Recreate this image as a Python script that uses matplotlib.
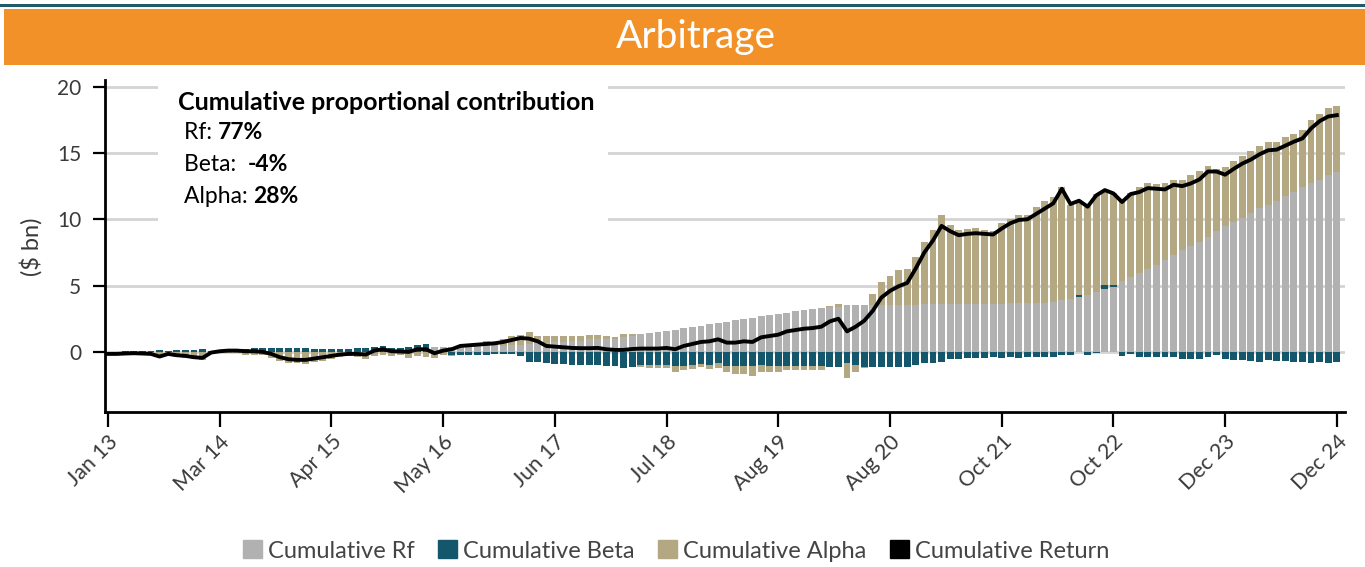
import numpy as np
import matplotlib
matplotlib.use("Agg")
import matplotlib.pyplot as plt
from matplotlib.patches import Patch, Rectangle

# ---------------- data ----------------
tick_labels = ["Jan 13", "Mar 14", "Apr 15", "May 16", "Jun 17", "Jul 18",
               "Aug 19", "Aug 20", "Oct 21", "Oct 22", "Dec 23", "Dec 24"]

cum_rf = [
    0.0, 0.0, 0.0, 0.0, 0.0, 0.0, 0.0, 0.0, 0.0, 0.0,
    0.0, 0.0, 0.0, 0.0, 0.0, 0.0, 0.0, 0.0, 0.0, 0.0,
    0.0, 0.0, 0.0, 0.0, 0.0, 0.0, 0.0, 0.0, 0.0, 0.0,
    0.0, 0.0, 0.0, 0.0, 0.0, 0.0, 0.0, 0.0, 0.35, 0.35,
    0.37, 0.38, 0.40, 0.42, 0.42, 0.42, 0.45, 0.50, 0.50, 0.60,
    0.70, 0.70, 0.72, 0.78, 0.85, 0.85, 0.95, 0.95, 1.00, 1.00,
    1.15, 1.23, 1.35, 1.43, 1.50, 1.60, 1.65, 1.80, 1.90, 1.95,
    2.10, 2.20, 2.25, 2.40, 2.50, 2.55, 2.70, 2.80, 2.87, 2.95,
    3.10, 3.17, 3.25, 3.32, 3.37, 3.42, 3.55, 3.55, 3.55, 3.55,
    3.55, 3.57, 3.57, 3.57, 3.57, 3.62, 3.62, 3.62, 3.63, 3.63,
    3.63, 3.63, 3.64, 3.64, 3.64, 3.67, 3.67, 3.67, 3.67, 3.70,
    3.75, 3.92, 4.00, 4.17, 4.30, 4.53, 4.75, 4.90, 5.36, 5.66,
    5.96, 6.26, 6.57, 6.94, 7.32, 7.65, 8.00, 8.30, 8.68, 9.08,
    9.46, 9.76, 10.11, 10.44, 10.82, 11.10, 11.40, 11.77, 12.08, 12.45,
    12.75, 12.98, 13.36, 13.60,
]

cum_beta = [
    0.00, 0.03, 0.08, 0.08, 0.08, 0.08, 0.15, 0.08, 0.15, 0.15,
    0.15, 0.20, 0.10, 0.15, 0.20, 0.20, 0.20, 0.28, 0.28, 0.28,
    0.28, 0.28, 0.28, 0.28, 0.20, 0.20, 0.20, 0.20, 0.20, 0.30,
    0.30, 0.40, 0.45, 0.30, 0.28, 0.40, 0.53, 0.60, 0.00, 0.00,
    -0.20, -0.20, -0.20, -0.20, -0.20, -0.15, -0.15, -0.15, -0.30, -0.75,
    -0.75, -0.80, -0.90, -0.88, -1.00, -1.00, -1.00, -1.00, -1.05, -1.05,
    -1.20, -1.13, -1.00, -1.00, -1.00, -1.00, -1.05, -1.05, -1.00, -0.90,
    -1.00, -0.83, -1.05, -1.05, -1.05, -1.05, -1.00, -1.05, -1.05, -1.05,
    -1.03, -1.03, -1.03, -1.03, -1.10, -1.10, -0.83, -0.95, -1.10, -1.10,
    -1.10, -1.10, -1.10, -1.10, -0.95, -0.83, -0.83, -0.73, -0.55, -0.50,
    -0.45, -0.45, -0.45, -0.35, -0.45, -0.35, -0.45, -0.40, -0.40, -0.35,
    -0.40, -0.23, -0.23, 0.12, -0.23, -0.10, 0.30, 0.15, -0.28, -0.15,
    -0.40, -0.35, -0.40, -0.40, -0.35, -0.50, -0.55, -0.50, -0.35, -0.20,
    -0.50, -0.60, -0.60, -0.68, -0.75, -0.60, -0.68, -0.68, -0.75, -0.75,
    -0.80, -0.75, -0.80, -0.75,
]

cum_alpha = [
    -0.20, -0.20, -0.20, -0.20, -0.20, -0.20, -0.35, -0.25, -0.40, -0.45,
    -0.55, -0.60, -0.10, -0.10, -0.10, -0.10, -0.20, -0.25, -0.25, -0.45,
    -0.65, -0.85, -0.85, -0.90, -0.75, -0.65, -0.55, -0.40, -0.30, -0.40,
    -0.50, -0.30, -0.25, -0.30, -0.25, -0.45, -0.30, -0.35, -0.45, -0.25,
    -0.10, 0.00, 0.00, 0.15, 0.40, 0.35, 0.50, 0.70, 0.78, 0.90,
    0.50, 0.50, 0.50, 0.42, 0.35, 0.35, 0.33, 0.33, 0.20, 0.15,
    0.20, 0.12, -0.13, -0.20, -0.25, -0.25, -0.45, -0.28, -0.28, -0.25,
    -0.28, -0.37, -0.50, -0.65, -0.65, -0.80, -0.55, -0.50, -0.50, -0.35,
    -0.37, -0.32, -0.32, -0.32, 0.10, 0.20, -1.17, -0.55, -0.15, 0.83,
    1.75, 2.17, 2.63, 2.69, 3.55, 4.68, 5.58, 6.72, 5.97, 5.57,
    5.62, 5.73, 5.56, 5.51, 6.06, 6.33, 6.67, 6.67, 7.23, 7.67,
    7.92, 8.51, 7.07, 6.91, 6.67, 7.37, 7.13, 6.95, 5.91, 6.34,
    6.47, 6.47, 6.11, 5.79, 5.66, 5.33, 5.36, 5.36, 5.31, 4.73,
    4.45, 4.60, 4.68, 4.68, 4.73, 4.70, 4.45, 4.41, 4.37, 4.30,
    4.75, 4.92, 5.04, 4.97,
]

cum_return = [
    -0.15, -0.15, -0.12, -0.10, -0.12, -0.15, -0.35, -0.15, -0.25, -0.30,
    -0.40, -0.45, -0.05, 0.05, 0.10, 0.10, 0.05, 0.05, 0.00, -0.15,
    -0.40, -0.55, -0.60, -0.60, -0.50, -0.40, -0.30, -0.20, -0.15, -0.15,
    -0.20, 0.10, 0.20, 0.05, 0.03, 0.00, 0.20, 0.20, -0.10, 0.10,
    0.20, 0.45, 0.50, 0.55, 0.60, 0.65, 0.75, 0.90, 1.05, 1.00,
    0.80, 0.45, 0.40, 0.35, 0.30, 0.28, 0.28, 0.30, 0.20, 0.15,
    0.15, 0.22, 0.25, 0.25, 0.25, 0.30, 0.20, 0.45, 0.60, 0.75,
    0.80, 0.95, 0.70, 0.70, 0.80, 0.75, 1.10, 1.20, 1.30, 1.55,
    1.65, 1.75, 1.80, 1.90, 2.30, 2.50, 1.55, 1.90, 2.35, 3.10,
    4.10, 4.60, 4.95, 5.20, 6.30, 7.50, 8.40, 9.50, 9.10, 8.80,
    8.90, 8.95, 8.90, 8.85, 9.30, 9.70, 9.95, 10.00, 10.40, 10.80,
    11.20, 12.30, 11.15, 11.40, 10.95, 11.80, 12.20, 11.95, 11.30, 11.90,
    12.05, 12.35, 12.30, 12.25, 12.60, 12.50, 12.70, 13.00, 13.60, 13.60,
    13.36, 13.80, 14.20, 14.50, 14.90, 15.20, 15.25, 15.55, 15.85, 16.10,
    16.85, 17.40, 17.75, 17.85,
]

contrib_labels = ["Rf:", "Beta: ", "Alpha:"]
contrib_values = ["77%", "-4%", "28%"]

# ---------------- style ----------------
W, H = 1365, 567
FONT = "Lato"
C_RF, C_BETA, C_ALPHA, C_RET = "#b1b1b1", "#14566b", "#b3a882", "#000000"
ORANGE, TEAL_LINE = "#f39129", "#1e5a6a"
TXT = "#3a3a3a"

plt.rcParams["font.family"] = [FONT, "DejaVu Sans"]

fig = plt.figure(figsize=(W / 100, H / 100), dpi=100)

def fx(px):
    return px / W

def fy(py):
    return 1 - py / H

# header
fig.add_artist(Rectangle((0, fy(6.5)), 1, 3.0 / H, transform=fig.transFigure,
                         color=TEAL_LINE, lw=0))
fig.add_artist(Rectangle((fx(4), fy(65)), 1 - fx(4), 56.0 / H, transform=fig.transFigure,
                         color=ORANGE, lw=0))
fig.text(fx(696), fy(37), "Arbitrage", color="white", fontsize=28, ha="center",
         va="center")

# axes
ax_l, ax_r, ax_t, ax_b = 105, 1345, 80, 412
ax = fig.add_axes([fx(ax_l), fy(ax_b), fx(ax_r - ax_l), (ax_b - ax_t) / H])

rf = np.array(cum_rf)
beta = np.array(cum_beta)
alpha = np.array(cum_alpha)
ret = np.array(cum_return)
x = np.arange(len(rf))

pos_base = np.zeros(len(x))
neg_base = np.zeros(len(x))
for vals, col in [(rf, C_RF), (beta, C_BETA), (alpha, C_ALPHA)]:
    bottom = np.where(vals >= 0, pos_base, neg_base)
    ax.bar(x, vals, bottom=bottom, width=0.8, color=col, lw=0, zorder=2)
    pos_base = pos_base + np.where(vals >= 0, vals, 0)
    neg_base = neg_base + np.where(vals < 0, vals, 0)

ax.plot(x, ret, color=C_RET, lw=2.8, zorder=4, solid_joinstyle="round")

ax.set_xlim(-0.35, len(x) - 1 + 0.95)
ax.set_ylim(-4.53, 20.5)
ax.set_yticks([0, 5, 10, 15, 20])
ax.yaxis.grid(True, color="#d4d4d4", lw=2)
ax.set_axisbelow(True)
tick_pos = np.linspace(0, len(x) - 1, len(tick_labels))
ax.set_xticks(tick_pos)
ax.set_xticklabels(tick_labels, rotation=45, ha="right", va="top",
                   rotation_mode="anchor", fontsize=15.5, color=TXT)
for lab in ax.get_yticklabels():
    lab.set_fontsize(15)
    lab.set_color(TXT)
ax.tick_params(axis="x", length=11, width=1.6, color="black", pad=3)
ax.tick_params(axis="y", length=9, width=1.6, color="black", pad=8)
for s in ["top", "right"]:
    ax.spines[s].set_visible(False)
for s in ["left", "bottom"]:
    ax.spines[s].set_linewidth(2)
    ax.spines[s].set_color("black")

fig.text(fx(31), fy(247), "($ bn)", rotation=90, ha="center", va="center",
         fontsize=17, color=TXT)

# annotation box
ax.add_patch(Rectangle(((158 - ax_l) / (ax_r - ax_l), (ax_b - 226) / (ax_b - ax_t)),
                       (608 - 158) / (ax_r - ax_l), (226 - 84) / (ax_b - ax_t),
                       transform=ax.transAxes, color="white", lw=0, zorder=1))
fig.text(fx(178), fy(102), "Cumulative proportional contribution", fontsize=18,
         fontweight="bold", color="black", ha="left", va="center")
fig.canvas.draw()
renderer = fig.canvas.get_renderer()
ys = [133, 165, 197]
for lab, val, yy in zip(contrib_labels, contrib_values, ys):
    t = fig.text(fx(184), fy(yy), lab + " ", fontsize=16.5, color="black",
                 ha="left", va="center")
    bb = t.get_window_extent(renderer)
    fig.text(bb.x1 / W, fy(yy), val, fontsize=16.5, color="black", ha="left",
             va="center", fontweight="bold")

# legend
handles = [Patch(color=C_RF), Patch(color=C_BETA), Patch(color=C_ALPHA), Patch(color=C_RET)]
labels = ["Cumulative Rf", "Cumulative Beta", "Cumulative Alpha", "Cumulative Return"]
leg = fig.legend(handles, labels, loc="center", bbox_to_anchor=(fx(676), fy(551)), ncol=4,
                 frameon=False, fontsize=17, handlelength=0.8, handleheight=0.8,
                 handletextpad=0.25, columnspacing=1.0)
for t in leg.get_texts():
    t.set_color("#444444")

fig.savefig("out.png", dpi=100)
